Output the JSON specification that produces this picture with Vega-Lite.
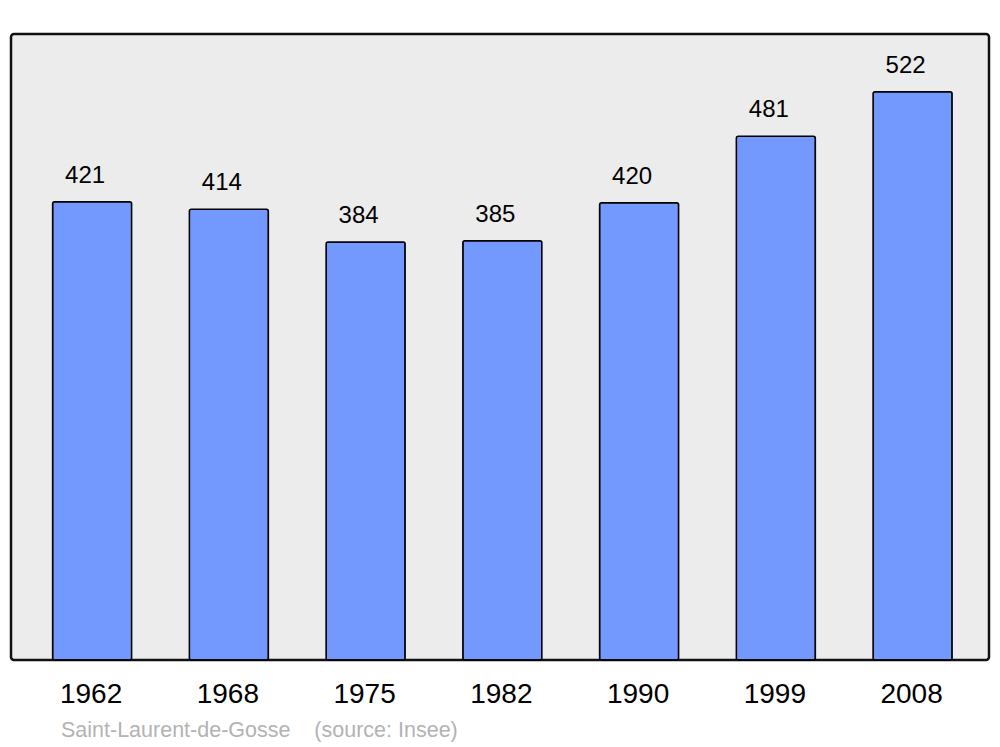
{
  "$schema": "https://vega.github.io/schema/vega-lite/v6.json",
  "width": 978,
  "height": 626,
  "autosize": {"type": "none"},
  "padding": {"left": 11, "top": 34, "right": 11, "bottom": 87},
  "background": "white",
  "config": {
    "view": {"fill": "#ececec", "stroke": "#111111", "strokeWidth": 2.5, "cornerRadius": 3},
    "font": "Liberation Sans"
  },
  "title": {
    "text": "Saint-Laurent-de-Gosse\u00a0\u00a0\u00a0\u00a0(source: Insee)",
    "orient": "bottom",
    "anchor": "start",
    "dx": 50,
    "offset": 12,
    "fontSize": 21.5,
    "fontWeight": "normal",
    "color": "#b3b3b3",
    "font": "Liberation Sans"
  },
  "data": {
    "values": [
      {"year": "1962", "pop": 421},
      {"year": "1968", "pop": 414},
      {"year": "1975", "pop": 384},
      {"year": "1982", "pop": 385},
      {"year": "1990", "pop": 420},
      {"year": "1999", "pop": 481},
      {"year": "2008", "pop": 522}
    ]
  },
  "encoding": {
    "x": {
      "field": "year",
      "type": "nominal",
      "sort": null,
      "scale": {"paddingInner": 0.422, "paddingOuter": 0.287, "align": 0.53},
      "axis": {
        "title": null,
        "domain": false,
        "ticks": false,
        "labelAngle": 0,
        "labelFontSize": 28,
        "labelColor": "#000000",
        "labelPadding": 20,
        "labelOffset": -1,
        "labelFont": "Liberation Sans"
      }
    },
    "y": {
      "field": "pop",
      "type": "quantitative",
      "scale": {"domain": [0, 575], "nice": false, "zero": true},
      "axis": null
    }
  },
  "layer": [
    {
      "mark": {"type": "bar", "fill": "#7399ff", "stroke": "#000000", "strokeWidth": 1.5, "cornerRadius": 2}
    },
    {
      "mark": {"type": "text", "fontSize": 24, "baseline": "alphabetic", "dy": -19, "dx": -7, "color": "#000000", "font": "Liberation Sans"},
      "encoding": {"text": {"field": "pop", "type": "quantitative"}}
    }
  ]
}
